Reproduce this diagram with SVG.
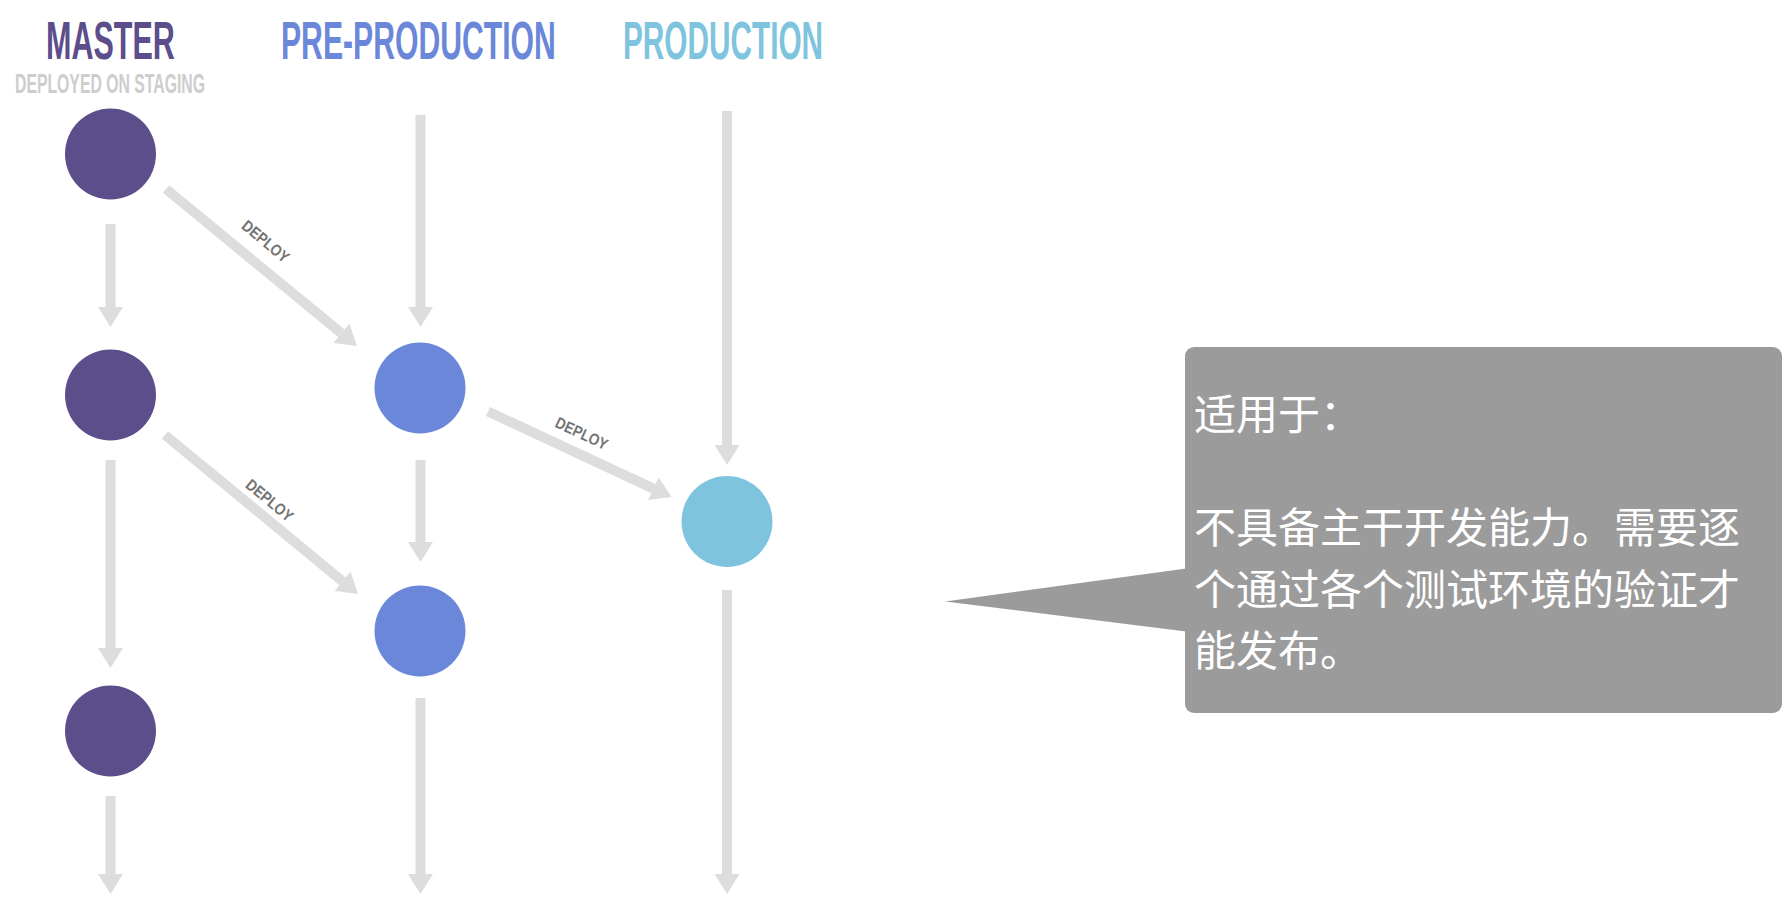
<svg xmlns="http://www.w3.org/2000/svg" width="1790" height="918" viewBox="0 0 1790 918">
  <defs>
    <marker id="head" markerUnits="userSpaceOnUse" markerWidth="22" markerHeight="26" viewBox="0 -13 20 26" refX="0" refY="0" orient="auto">
      <path d="M0,-12.5 L20,0 L0,12.5 Z" fill="#dddddd"/>
    </marker>
    <style>
      .title{font-family:"Liberation Sans",Arial,sans-serif;font-weight:bold;font-size:53px}
      .sub{font-family:"Liberation Sans",Arial,sans-serif;font-weight:bold;font-size:27px;fill:#cdcdcd}
      .lbl{font-family:"Liberation Sans",Arial,sans-serif;font-weight:bold;font-size:16px;fill:#737373}
      .edge{stroke:#dddddd;stroke-width:10;fill:none;marker-end:url(#head)}
      .m{fill:#5c4d8b}
      .p{fill:#6a87da}
      .q{fill:#7ec4de}
      .cjk{font-family:"Noto Sans CJK SC","Noto Sans",sans-serif;font-size:42px;fill:#ffffff}
    </style>
  </defs>

  <g id="headers">
    <text class="title" transform="translate(46,59) scale(0.57,1)" x="0" y="0" fill="#5c4d8b" textLength="226" lengthAdjust="spacingAndGlyphs">MASTER</text>
    <text class="sub" x="15" y="93" textLength="190" lengthAdjust="spacingAndGlyphs">DEPLOYED ON STAGING</text>
    <text class="title" transform="translate(281,59) scale(0.57,1)" x="0" y="0" fill="#6a87da" textLength="482" lengthAdjust="spacingAndGlyphs">PRE-PRODUCTION</text>
    <text class="title" transform="translate(623,59) scale(0.57,1)" x="0" y="0" fill="#7ec4de" textLength="351" lengthAdjust="spacingAndGlyphs">PRODUCTION</text>
  </g>

  <g id="connectors">
    <line class="edge" x1="110.5" y1="224" x2="110.5" y2="307"/>
    <line class="edge" x1="110.5" y1="460" x2="110.5" y2="648"/>
    <line class="edge" x1="110.5" y1="796" x2="110.5" y2="874"/>
    <line class="edge" x1="420.5" y1="115" x2="420.5" y2="307"/>
    <line class="edge" x1="420.5" y1="460" x2="420.5" y2="542"/>
    <line class="edge" x1="420.5" y1="698" x2="420.5" y2="874"/>
    <line class="edge" x1="727" y1="111" x2="727" y2="445"/>
    <line class="edge" x1="727" y1="590" x2="727" y2="874"/>
    <line class="edge" x1="166" y1="189" x2="341.5" y2="333.3"/>
    <line class="edge" x1="165" y1="435" x2="342.6" y2="581.3"/>
    <line class="edge" x1="488" y1="411.5" x2="653.4" y2="488.6"/>
    <text class="lbl" transform="translate(266,241) rotate(39.4)" x="0" y="6" text-anchor="middle" textLength="56" lengthAdjust="spacingAndGlyphs">DEPLOY</text>
    <text class="lbl" transform="translate(270,500) rotate(39.5)" x="0" y="6" text-anchor="middle" textLength="56" lengthAdjust="spacingAndGlyphs">DEPLOY</text>
    <text class="lbl" transform="translate(582,433) rotate(25)" x="0" y="6" text-anchor="middle" textLength="56" lengthAdjust="spacingAndGlyphs">DEPLOY</text>
  </g>

  <g id="master-1"><circle class="m" cx="110.5" cy="154" r="45.5"/></g>
  <g id="master-2"><circle class="m" cx="110.5" cy="395" r="45.5"/></g>
  <g id="master-3"><circle class="m" cx="110.5" cy="731" r="45.5"/></g>
  <g id="preprod-1"><circle class="p" cx="420" cy="388" r="45.5"/></g>
  <g id="preprod-2"><circle class="p" cx="420" cy="631" r="45.5"/></g>
  <g id="prod-1"><circle class="q" cx="727" cy="521.5" r="45.5"/></g>

  <g id="callout">
    <polygon points="945,601.5 1190,568 1190,632" fill="#9b9b9b"/>
    <rect x="1185" y="347" width="597" height="366" rx="9" ry="9" fill="#9b9b9b"/>
    <text class="cjk" x="1194" y="430">适用于：</text>
    <text class="cjk" x="1194" y="543">不具备主干开发能力。需要逐</text>
    <text class="cjk" x="1194" y="605">个通过各个测试环境的验证才</text>
    <text class="cjk" x="1194" y="666">能发布。</text>
  </g>
</svg>
